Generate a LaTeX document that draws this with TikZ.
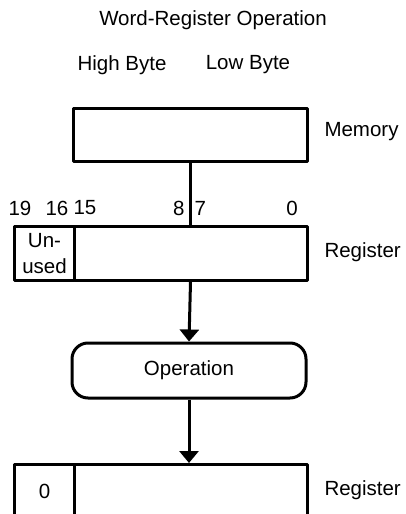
\documentclass[tikz,border=0pt]{standalone}
\usepackage{fontspec}
\setmainfont{Liberation Sans}
\usetikzlibrary{arrows.meta}
\begin{document}
\begin{tikzpicture}[x=1pt, y=-1pt, line width=3pt, line join=round, >={Triangle[width=19pt,length=12pt]}, font=\fontsize{20.5}{26}\selectfont,
		cell/.style={draw, minimum height=54pt, inner sep=0pt, anchor=north west, align=center},
		side/.style={anchor=west, inner sep=0pt}]
			\clip (0,0) rectangle (406,514);
			\node (title) at (213,20) {Word-Register Operation};
			\node (high) at (122,65) {High Byte};
			\node (low) at (248,65) {Low Byte};
			\node[cell, minimum width=234pt, minimum height=53pt] (mem) at (72,107) {};
			\node[side] (memlbl) at (323,132) {Memory};
			\node (b19) at (20,208) {19};
			\node (b16) at (57,208) {16};
			\node (b15) at (85,208) {15};
			\node[anchor=east, inner sep=0pt] (b8) at (186,208) {8};
			\node[anchor=west, inner sep=0pt] (b7) at (193,208) {7};
			\node (b0) at (292,208) {0};
			\node[cell, minimum width=60pt] (unused) at (13,225) {Un-\\used};
			\node[cell, minimum width=233pt] (regw) at (73,225) {};
			\node[side] (reglbl) at (323,252) {Register};
			\node[draw, rounded corners=16pt, minimum width=234pt, minimum height=55pt] (op) at (189,370.5) {Operation};
			\node[cell, minimum width=60pt] (zero) at (13,463) {0};
			\node[cell, minimum width=233pt] (resw) at (73,463) {};
			\node[side] (reslbl) at (323,490) {Register};
			\draw (mem.south) -- (mem.south |- regw.north);
			\draw[->] (mem.south |- regw.south) -- (op.north);
			\draw[->] (op.south) -- (op.south |- resw.north);
		\end{tikzpicture}
\end{document}
